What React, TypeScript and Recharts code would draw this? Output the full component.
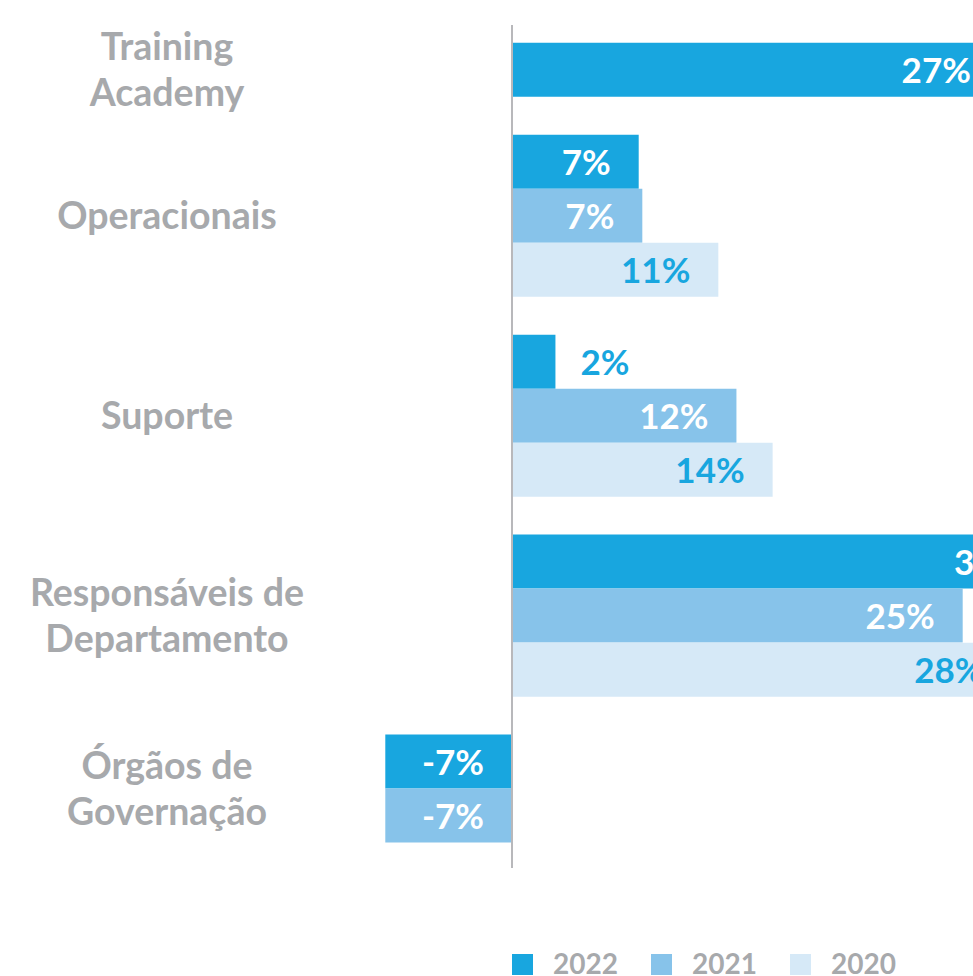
import { BarChart, Bar, XAxis, YAxis, Cell, LabelList, ReferenceLine } from "recharts";

const categories = ["Training\nAcademy", "Operacionais", "Suporte", "Responsáveis de\nDepartamento", "Órgãos de\nGovernação"];
const years = ["2022", "2021", "2020"];
const colors = ["#18a6df", "#87c3ea", "#d6e9f7"];

// % values per category (null = no bar)
const values2022 = [26.9, 7.0, 2.4, 29.8, -7.0];
const values2021 = [null, 7.2, 12.4, 24.9, -7.0];
const values2020 = [null, 11.4, 14.4, 27.6, null];

const series = [values2022, values2021, values2020];
const groupGap = 0.7;

// one row per bar; bars of a category sit next to each other, missing years take no room
const rows: { cat: string; year: string; value: number; pos: number; yi: number }[] = [];
const centers: number[] = [];
let pos = 0;
categories.forEach((cat, ci) => {
    if (ci > 0) pos += groupGap;
    const start = pos;
    years.forEach((year, yi) => {
        const v = series[yi][ci];
        if (v == null) return;
        rows.push({ cat, year, value: v, pos, yi });
        pos += 1;
    });
    centers.push((start + pos - 1) / 2);
});
const lastPos = pos - 1;

const FONT = "Lato, 'Open Sans', sans-serif";
const GREY = "#a7a9ac";

function CatTick(props: any) {
    const { y, payload } = props;
    const ci = centers.findIndex(c => Math.abs(c - payload.value) < 1e-6);
    if (ci < 0) return null;
    const lines = categories[ci].split("\n");
    return (
        <text textAnchor="middle" fontFamily={FONT} fontWeight={700} fontSize={37.5} fill={GREY}>
            {lines.map((l, i) => (
                <tspan key={i} x={167} y={y + 13 + (i - (lines.length - 1) / 2) * 46}>{l}</tspan>
            ))}
        </text>
    );
}

function BarLabel(props: any) {
    const { x, y, width, height, value, index } = props;
    const row = rows[index];
    const right = Math.max(x, x + width);
    const cy = y + height / 2 + 13;
    const txt = Math.round(value) + "%";
    if (Math.abs(width) < 80) {
        return (
            <text x={right + 25} y={cy} textAnchor="start" fontFamily={FONT} fontWeight={700} fontSize={35} fill={colors[0]}>{txt}</text>
        );
    }
    const fill = row && row.yi === 2 ? colors[0] : "#ffffff";
    return (
        <text x={right - 28} y={cy} textAnchor="end" fontFamily={FONT} fontWeight={700} fontSize={35} fill={fill}>{txt}</text>
    );
}

export default function App() {
    return (
        <div style={{ position: "absolute", left: 0, top: 0, width: 973, height: 976, overflow: "hidden", background: "#fff" }}>
            <BarChart layout="vertical" data={rows} width={1236} height={1000} margin={{ top: 25, right: 0, bottom: 132, left: 0 }}>
                <XAxis type="number" domain={[-10, 40]} hide allowDataOverflow />
                <YAxis type="number" dataKey="pos" domain={[-0.83, lastPos + 0.97]} ticks={centers} interval={0}
                    width={331} axisLine={false} tickLine={false} tick={<CatTick />} allowDataOverflow />
                <Bar dataKey="value" barSize={54} isAnimationActive={false}>
                    {rows.map((r, i) => <Cell key={i} fill={colors[r.yi]} />)}
                    <LabelList dataKey="value" content={<BarLabel />} />
                </Bar>
                <ReferenceLine x={0} stroke="#b8b8bb" strokeWidth={2} />
            </BarChart>
            <div style={{ position: "absolute", left: 512, top: 946, display: "flex", fontFamily: FONT, fontWeight: 700, fontSize: 28, color: GREY }}>
                {years.map((yr, i) => (
                    <div key={yr} style={{ display: "flex", alignItems: "flex-start", width: 139 }}>
                        <div style={{ width: 21, height: 21, background: colors[i], marginTop: 8, marginRight: 20 }} />
                        <span style={{ lineHeight: "34px" }}>{yr}</span>
                    </div>
                ))}
            </div>
        </div>
    );
}
